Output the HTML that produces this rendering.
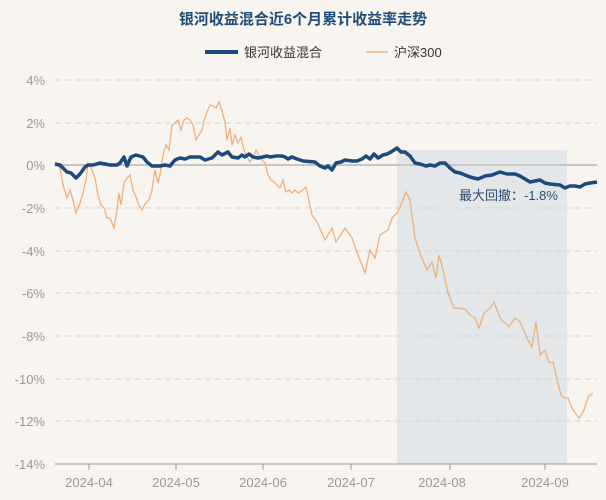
<!DOCTYPE html><html><head><meta charset="utf-8"><style>body{margin:0;background:#f8f5f1;}svg{display:block;font-family:"Liberation Sans","Noto Sans CJK SC",sans-serif;}</style></head><body>
<svg width="606" height="500" viewBox="0 0 606 500">
<rect width="606" height="500" fill="#f8f5f1"/>
<text x="303" y="24" text-anchor="middle" font-size="15" font-weight="bold" fill="#1f4e79">银河收益混合近6个月累计收益率走势</text>
<line x1="205" y1="52" x2="238" y2="52" stroke="#1c4a7c" stroke-width="4"/>
<text x="244" y="57" font-size="13" fill="#333">银河收益混合</text>
<line x1="366" y1="52" x2="388" y2="52" stroke="#f0b07a" stroke-width="1.5"/>
<text x="394" y="57" font-size="13" fill="#333">沪深300</text>
<rect x="397" y="150" width="170" height="314" fill="#dde3e8" opacity="0.8"/>
<g stroke="#d6d3cf" stroke-dasharray="6,4" stroke-width="1">
<line x1="55" y1="80" x2="597" y2="80"/><line x1="55" y1="123" x2="597" y2="123"/>
<line x1="55" y1="208" x2="597" y2="208"/><line x1="55" y1="251" x2="597" y2="251"/><line x1="55" y1="293" x2="597" y2="293"/><line x1="55" y1="336" x2="597" y2="336"/><line x1="55" y1="379" x2="597" y2="379"/><line x1="55" y1="421" x2="597" y2="421"/>
</g>
<line x1="55" y1="165" x2="597" y2="165" stroke="#c8c6c4" stroke-width="2"/>
<line x1="55" y1="464" x2="597" y2="464" stroke="#999" stroke-width="1"/>
<g stroke="#999"><line x1="89" y1="464" x2="89" y2="470"/><line x1="176" y1="464" x2="176" y2="470"/><line x1="263" y1="464" x2="263" y2="470"/><line x1="351" y1="464" x2="351" y2="470"/><line x1="450" y1="464" x2="450" y2="470"/><line x1="545" y1="464" x2="545" y2="470"/></g>
<g font-size="13" fill="#999" text-anchor="end">
<text x="45" y="85">4%</text><text x="45" y="128">2%</text><text x="45" y="170">0%</text><text x="45" y="213">-2%</text><text x="45" y="256">-4%</text><text x="45" y="298">-6%</text><text x="45" y="341">-8%</text><text x="45" y="384">-10%</text><text x="45" y="426">-12%</text><text x="45" y="469">-14%</text>
</g>
<g font-size="13" fill="#999" text-anchor="middle">
<text x="89" y="487">2024-04</text><text x="176" y="487">2024-05</text><text x="263" y="487">2024-06</text><text x="351" y="487">2024-07</text><text x="442" y="487">2024-08</text><text x="545" y="487">2024-09</text>
</g>
<polyline fill="none" stroke="#f0b07a" stroke-width="1.3" points="55,163 60,168 63,185 67,198 70,190 73,200 76,213 80,203 83,193 86,180 88,163 91,168 95,178 98,195 101,205 104,208 107,218 110,218 114,228 117,210 119,193 121,205 124,183 127,178 130,175 133,190 136,197 139,205 142,210 145,204 149,200 152,190 155,170 158,183 160,175 163,155 166,145 169,150 172,125 175,123 178,120 181,130 184,120 187,118 190,120 193,125 196,140 199,135 202,130 204,120 207,112 210,105 213,106 216,108 219,102 222,111 225,122 227,140 230,128 232,145 235,135 238,143 241,137 244,150 247,157 250,162 253,158 256,150 259,156 262,160 265,163 268,175 271,180 274,182 277,185 280,188 283,180 286,192 289,190 292,193 295,190 298,193 303,190 306,187 312,215 317,222 325,240 332,228 336,242 345,228 352,238 358,255 365,273 370,250 375,258 380,235 388,230 392,218 398,212 406,192 410,200 415,238 421,256 427,270 432,262 436,278 439,255 443,270 448,293 454,308 465,309 470,315 475,318 479,328 484,313 490,308 494,302 500,318 509,327 515,318 520,322 528,340 532,347 536,322 540,355 545,350 549,363 553,362 556,375 561,395 564,398 568,398 573,410 579,418 584,410 588,397 593,393"/>
<polyline fill="none" stroke="#1c4a7c" stroke-width="3.5" stroke-linejoin="round" points="55,164 60,165 63,168 67,172 71,173 76,178 80,174 85,167 88,165 93,165 100,163 105,164 110,165 117,165 120,163 124,157 127,166 131,157 136,155 143,157 147,162 152,166 160,166 165,165 170,166 175,160 180,158 185,159 190,157 200,157 205,160 212,158 218,152 222,155 228,152 232,157 238,158 242,155 245,157 249,154 253,157 258,158 263,157 267,156 270,157 276,156 282,156 285,157 288,159 292,157 297,159 303,161 315,162 320,166 325,168 328,166 332,170 336,163 341,162 345,160 352,161 357,161 362,159 366,156 370,159 374,154 378,158 383,155 387,154 391,152 397,148 401,152 405,152 410,156 415,163 420,164 426,166 430,165 435,166 440,163 445,163 450,168 455,172 460,173 465,175 470,177 478,179 485,176 492,175 500,172 507,174 515,174 520,176 525,179 530,182 535,181 540,180 545,183 550,184 560,185 565,188 570,186 575,186 580,187 585,184 590,183 597,182"/>
<text x="459" y="200" font-size="13" fill="#2b4a6f">最大回撤：-1.8%</text>
</svg></body></html>
